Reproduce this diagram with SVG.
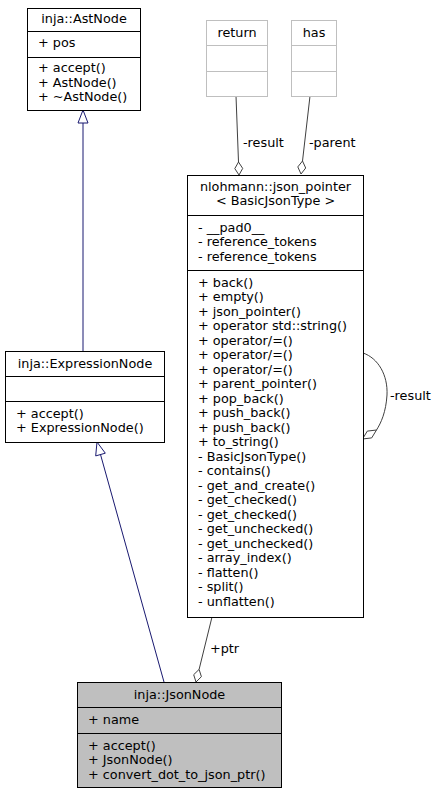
<svg xmlns="http://www.w3.org/2000/svg" width="439" height="793" viewBox="0 0 439 793">
<style>
text{font-family:"DejaVu Sans","Liberation Sans",sans-serif;font-size:12.8px;fill:#000}
.c{text-anchor:middle}
.box{fill:#fff;stroke:#000;stroke-width:1}
.gbox{fill:#fff;stroke:#bfbfbf;stroke-width:1}
.cur{fill:#bfbfbf;stroke:#000;stroke-width:1}
.sep{stroke:#000;stroke-width:1}
.gsep{stroke:#bfbfbf;stroke-width:1}
.inh{stroke:#191970;fill:none;stroke-width:1}
.inhh{stroke:#191970;fill:#fff;stroke-width:1}
.agg{stroke:#404040;fill:none;stroke-width:1}
.aggh{stroke:#404040;fill:#fff;stroke-width:1}
</style>
<rect width="439" height="793" fill="#fff"/>
<g id="connectors">
  <path class="inh" d="M83,351 L83,123"/>
  <polygon class="inhh" points="83,110 88,123 78,123"/>
  <path class="inh" d="M164,682 L100.5,454.5"/>
  <polygon class="inhh" points="97,442 105.3,453.2 95.7,455.9"/>
  <path class="agg" d="M236,96 L238.5,162"/>
  <polygon class="aggh" points="239,175 242.7,168.4 238.5,162 234.8,168.6"/>
  <path class="agg" d="M310,96 L302.5,161"/>
  <polygon class="aggh" points="301,174 305.7,168 302.5,161 297.8,166.9"/>
  <path class="agg" d="M212,617 L199.1,669.4"/>
  <polygon class="aggh" points="196,682 201.4,676.7 199.1,669.4 193.7,674.7"/>
  <path class="agg" d="M363,353 C378,358 388,375 387,395 C386,412 381,423 376.5,430"/>
  <polygon class="aggh" points="362.5,439 367.3,431.1 376.5,430 371.7,437.9"/>
  <text x="243" y="146.5">-result</text>
  <text x="309" y="146.5">-parent</text>
  <text x="210" y="652.5">+ptr</text>
  <text x="390" y="399.5">-result</text>
</g>
<g id="node-astnode">
  <rect class="box" x="27.5" y="8.5" width="113" height="102"/>
  <line class="sep" x1="27.5" y1="31.5" x2="140.5" y2="31.5"/>
  <line class="sep" x1="27.5" y1="57.5" x2="140.5" y2="57.5"/>
  <text class="c" x="84" y="22.5">inja::AstNode</text>
  <text x="38" y="47">+ pos</text>
  <text x="38" y="72">+ accept()</text>
  <text x="38" y="86.5">+ AstNode()</text>
  <text x="38" y="101">+ ~AstNode()</text>
</g>
<g id="node-return">
  <rect class="gbox" x="206.5" y="20.5" width="61" height="76"/>
  <line class="gsep" x1="206.5" y1="45.5" x2="267.5" y2="45.5"/>
  <line class="gsep" x1="206.5" y1="71.5" x2="267.5" y2="71.5"/>
  <text class="c" x="237" y="36.5">return</text>
</g>
<g id="node-has">
  <rect class="gbox" x="291.5" y="20.5" width="45" height="76"/>
  <line class="gsep" x1="291.5" y1="45.5" x2="336.5" y2="45.5"/>
  <line class="gsep" x1="291.5" y1="71.5" x2="336.5" y2="71.5"/>
  <text class="c" x="314" y="36.5">has</text>
</g>
<g id="node-json-pointer">
  <rect class="box" x="187.5" y="175.5" width="176" height="442"/>
  <line class="sep" x1="187.5" y1="215.5" x2="363.5" y2="215.5"/>
  <line class="sep" x1="187.5" y1="270.5" x2="363.5" y2="270.5"/>
  <text class="c" x="275.5" y="190.5">nlohmann::json_pointer</text>
  <text class="c" x="275.5" y="205">&lt; BasicJsonType &gt;</text>
  <text x="198" y="231.5">- __pad0__</text>
  <text x="198" y="246">- reference_tokens</text>
  <text x="198" y="260.5">- reference_tokens</text>
  <text x="198" y="286.5">+ back()</text>
  <text x="198" y="301">+ empty()</text>
  <text x="198" y="315.5">+ json_pointer()</text>
  <text x="198" y="330">+ operator std::string()</text>
  <text x="198" y="344.5">+ operator/=()</text>
  <text x="198" y="359">+ operator/=()</text>
  <text x="198" y="373.5">+ operator/=()</text>
  <text x="198" y="388">+ parent_pointer()</text>
  <text x="198" y="402.5">+ pop_back()</text>
  <text x="198" y="417">+ push_back()</text>
  <text x="198" y="431.5">+ push_back()</text>
  <text x="198" y="446">+ to_string()</text>
  <text x="198" y="460.5">- BasicJsonType()</text>
  <text x="198" y="475">- contains()</text>
  <text x="198" y="489.5">- get_and_create()</text>
  <text x="198" y="504">- get_checked()</text>
  <text x="198" y="518.5">- get_checked()</text>
  <text x="198" y="533">- get_unchecked()</text>
  <text x="198" y="547.5">- get_unchecked()</text>
  <text x="198" y="562">- array_index()</text>
  <text x="198" y="576.5">- flatten()</text>
  <text x="198" y="591">- split()</text>
  <text x="198" y="605.5">- unflatten()</text>
</g>
<g id="node-expressionnode">
  <rect class="box" x="5.5" y="351.5" width="159" height="91"/>
  <line class="sep" x1="5.5" y1="376.5" x2="164.5" y2="376.5"/>
  <line class="sep" x1="5.5" y1="401.5" x2="164.5" y2="401.5"/>
  <text class="c" x="85" y="367.5">inja::ExpressionNode</text>
  <text x="16" y="417.5">+ accept()</text>
  <text x="16" y="432">+ ExpressionNode()</text>
</g>
<g id="node-jsonnode">
  <rect class="cur" x="77.5" y="682.5" width="204" height="105"/>
  <line class="sep" x1="77.5" y1="707.5" x2="281.5" y2="707.5"/>
  <line class="sep" x1="77.5" y1="733.5" x2="281.5" y2="733.5"/>
  <text class="c" x="179.5" y="698.5">inja::JsonNode</text>
  <text x="88" y="723.5">+ name</text>
  <text x="88" y="749.5">+ accept()</text>
  <text x="88" y="764">+ JsonNode()</text>
  <text x="88" y="778.5">+ convert_dot_to_json_ptr()</text>
</g>
</svg>
